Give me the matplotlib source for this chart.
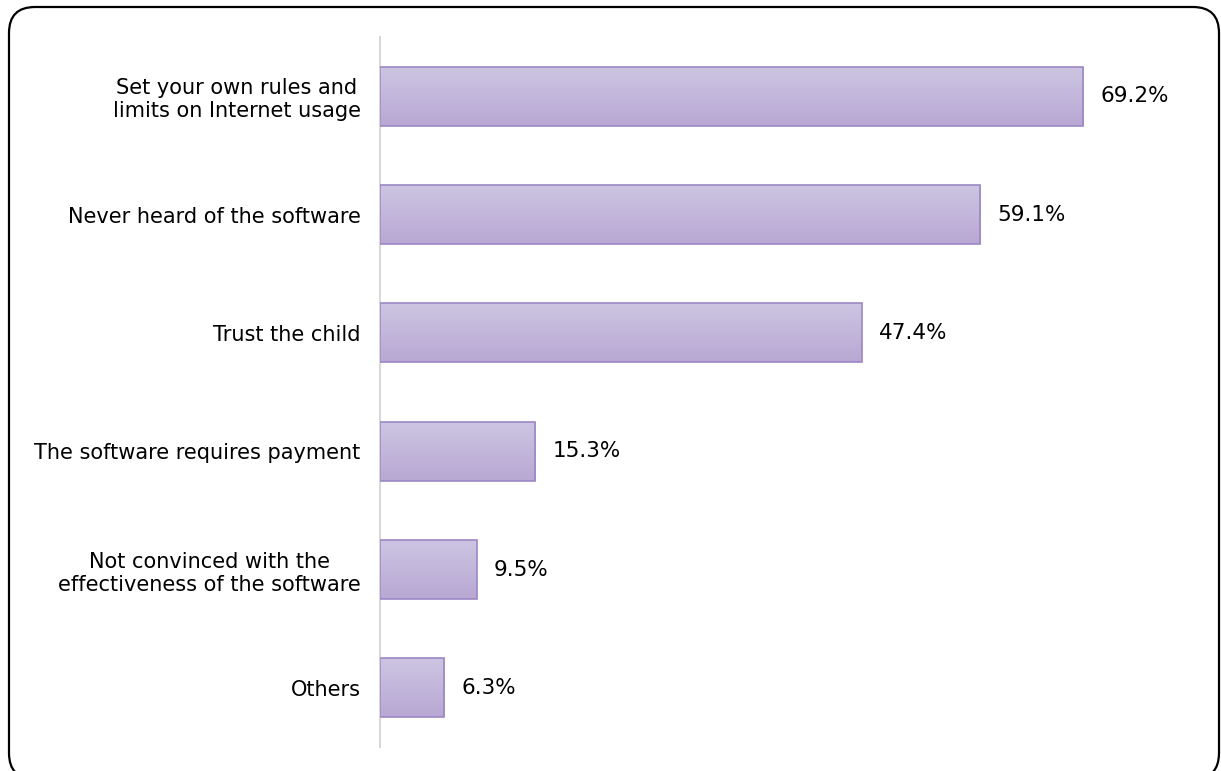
import numpy as np
import matplotlib.pyplot as plt
from matplotlib.patches import FancyBboxPatch
from matplotlib.colors import LinearSegmentedColormap

categories = [
    "Set your own rules and\nlimits on Internet usage",
    "Never heard of the software",
    "Trust the child",
    "The software requires payment",
    "Not convinced with the\neffectiveness of the software",
    "Others",
]
values = [69.2, 59.1, 47.4, 15.3, 9.5, 6.3]

W, H = 1221, 771
fig = plt.figure(figsize=(W / 100, H / 100), dpi=100)

# rounded frame drawn in pixel units on a full-figure axes
bg = fig.add_axes([0, 0, 1, 1])
bg.set_xlim(0, W)
bg.set_ylim(H, 0)
bg.axis("off")
frame = FancyBboxPatch((34, 32), 1160, 722,
                       boxstyle="round,pad=25,rounding_size=26",
                       facecolor="white", edgecolor="black", linewidth=1.6)
bg.add_patch(frame)

ax = fig.add_axes([380 / W, 1 - 747 / H, 812.8 / W, 710 / H])
ax.patch.set_alpha(0)

y = np.arange(len(categories))
bars = ax.barh(y, values, height=0.5, color="none",
               edgecolor="#9B87C5", linewidth=1.2, zorder=3)

grad = LinearSegmentedColormap.from_list("bar", ["#CDC5E2", "#B8A8D3"])
g = np.linspace(0, 1, 64).reshape(-1, 1)
for b in bars:
    x0, y0, w, h = b.get_x(), b.get_y(), b.get_width(), b.get_height()
    im = ax.imshow(g, cmap=grad, aspect="auto", origin="upper",
                   extent=[x0, x0 + w, y0 + h, y0], zorder=2,
                   interpolation="bilinear")
    im.set_clip_path(b)

for v, yy in zip(values, y):
    ax.text(v + 1.7, yy, f"{v}%", va="center", ha="left",
            fontsize=15.5, color="black")

ax.set_xlim(0, 80)
ax.set_ylim(len(categories) - 0.5, -0.5)
ax.set_yticks(y)
ax.set_yticklabels(categories, fontsize=15, ha="right",
                   multialignment="center", linespacing=1.2)
ax.tick_params(axis="y", length=0, pad=14)
ax.set_xticks([])
for s in ["top", "right", "bottom"]:
    ax.spines[s].set_visible(False)
ax.spines["left"].set_color("#D9D9D9")
ax.spines["left"].set_linewidth(1.5)

fig.savefig("out.png", dpi=100)
